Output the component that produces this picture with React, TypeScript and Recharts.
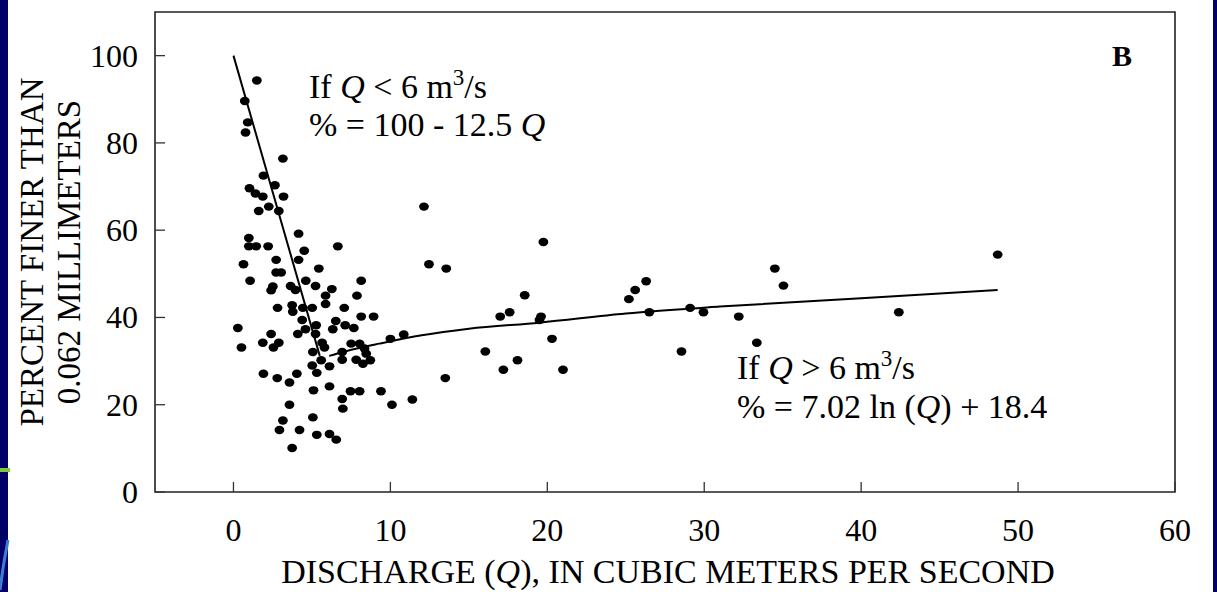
import { ComposedChart, Scatter, Line, XAxis, YAxis, ReferenceArea } from 'recharts'

const W = 1217
const H = 592
const PLOT = { left: 155, right: 1175, top: 12, bottom: 492 }
const SERIF = '"Liberation Serif", "Times New Roman", serif'

const xTicks = [0, 10, 20, 30, 40, 50, 60]
const yTicks = [0, 20, 40, 60, 80, 100]

// samples at low discharge (dense cluster, Q < 10)
const lowQ = [
  1.49, 0.72, 0.91, 0.77, 3.15, 1.91, 2.64, 1.02, 1.4, 1.87, 3.19, 2.25, 1.61, 2.89, 4.15, 0.98, 0.98, 1.45,
  2.21, 6.65, 4.51, 2.72, 4.15, 0.64, 5.44, 2.72, 3.04, 4.61, 1.06, 8.14, 2.51, 3.64, 5.23, 2.4, 3.95, 6.27,
  5.87, 7.87, 5.87, 2.81, 3.74, 4.42, 5.02, 7.06, 3.78, 4.38, 8.14, 8.93, 5.27, 6.52, 7.12, 7.67, 0.28, 2.4,
  1.87, 2.89, 2.55, 0.51, 4.1, 4.59, 5.23, 6.33, 5.65, 5.8, 5.06, 5.59, 5.02, 5.31, 6.12, 6.93, 6.93, 7.5,
  8.04, 8.35, 7.82, 8.25, 8.72, 8.46, 1.91, 2.79, 3.57, 4.04, 5.1, 6.12, 6.93, 6.97, 7.46, 8.04, 3.57, 3.15,
  2.93, 4.21, 5.06, 5.31, 6.12, 6.55, 3.74,
]
const lowPct = [
  94.3, 89.6, 84.7, 82.4, 76.4, 72.5, 70.3, 69.6, 68.4, 67.7, 67.7, 65.4, 64.4, 64.4, 59.2, 58.2, 56.3, 56.3,
  56.3, 56.3, 55.3, 53.2, 53.2, 52.2, 51.2, 50.3, 50.3, 48.4, 48.4, 48.4, 47.1, 47.2, 47.2, 46.2, 46.3, 46.5,
  45.0, 45.0, 43.1, 42.2, 42.8, 42.2, 42.2, 42.2, 41.3, 39.4, 40.2, 40.2, 38.2, 39.2, 38.2, 37.6, 37.6, 36.2,
  34.2, 34.2, 33.1, 33.1, 36.2, 37.3, 36.2, 37.3, 34.2, 33.1, 32.1, 30.2, 29.0, 27.3, 28.8, 32.1, 30.3, 34.0,
  34.0, 32.9, 30.3, 29.4, 30.2, 31.7, 27.1, 26.1, 25.1, 27.1, 23.3, 24.2, 21.3, 19.1, 23.1, 23.1, 20.0, 16.4,
  14.2, 14.2, 17.1, 13.1, 13.3, 12.0, 10.1,
]

// samples at higher discharge
const highQ = [
  12.14, 12.46, 13.56, 19.75, 18.56, 17.0, 17.6, 19.6, 19.5, 20.3, 21.0, 17.2, 18.1, 16.05, 13.5, 11.4, 10.1,
  9.4, 10.0, 10.85, 25.2, 25.6, 26.3, 26.5, 29.1, 29.95, 28.55, 32.2, 33.35, 34.5, 35.05, 42.4, 48.7,
]
const highPct = [
  65.4, 52.2, 51.2, 57.3, 45.1, 40.2, 41.2, 40.2, 39.4, 35.1, 28.0, 28.0, 30.2, 32.2, 26.1, 21.2, 20.0,
  23.1, 35.1, 36.1, 44.2, 46.3, 48.3, 41.2, 42.2, 41.2, 32.2, 40.2, 34.2, 51.2, 47.3, 41.2, 54.4,
]

// fitted relations as traced on the figure
const steepQ = [0, 5.5]
const steepPct = [100, 31.2]
const curveQ = [6.1, 7, 8, 9.3, 12, 15, 19.5, 25, 31, 40, 48.7]
const curvePct = [31.2, 32.1, 33.0, 34.0, 35.9, 37.4, 38.8, 40.9, 42.5, 44.4, 46.3]

const pair = (qs: number[], ps: number[]) => qs.map((q, i) => ({ q, pct: ps[i] }))

const dots = [...pair(lowQ, lowPct), ...pair(highQ, highPct)]
const steepLine = pair(steepQ, steepPct)
const logCurve = pair(curveQ, curvePct)

const Dot = (props: any) => <ellipse cx={props.cx} cy={props.cy} rx={4.9} ry={4.2} fill="#000" />

const BottomTick = ({ x, payload }: any) => (
  <g>
    <line x1={x} x2={x} y1={PLOT.bottom} y2={PLOT.bottom - 10} stroke="#333" strokeWidth={1.3} />
    <text x={x} y={PLOT.bottom + 49} textAnchor="middle" fontSize={32} fontFamily={SERIF} fill="#000">
      {payload.value}
    </text>
  </g>
)

const TopTick = ({ x }: any) => (
  <line x1={x} x2={x} y1={PLOT.top} y2={PLOT.top + 10} stroke="#333" strokeWidth={1.3} />
)

const LeftTick = ({ y, payload }: any) => (
  <g>
    <line x1={PLOT.left} x2={PLOT.left + 10} y1={y} y2={y} stroke="#333" strokeWidth={1.3} />
    <text x={PLOT.left - 17} y={y + 11} textAnchor="end" fontSize={32} fontFamily={SERIF} fill="#000">
      {payload.value}
    </text>
  </g>
)

const RightTick = ({ y }: any) => (
  <line x1={PLOT.right} x2={PLOT.right - 10} y1={y} y2={y} stroke="#333" strokeWidth={1.3} />
)

export default function App() {
  return (
    <div style={{ position: 'relative', width: W, height: H, background: '#fff', overflow: 'hidden' }}>
      <style>{'body{margin:0}'}</style>
      <ComposedChart
        width={W}
        height={H}
        margin={{ top: PLOT.top, right: W - PLOT.right, bottom: 0, left: 0 }}
      >
        <XAxis
          dataKey="q"
          type="number"
          domain={[-5, 60]}
          ticks={xTicks}
          interval={0}
          height={H - PLOT.bottom}
          axisLine={false}
          tickLine={false}
          tick={<BottomTick />}
          allowDataOverflow
        />
        <XAxis
          xAxisId="top"
          orientation="top"
          dataKey="q"
          type="number"
          domain={[-5, 60]}
          ticks={xTicks}
          interval={0}
          height={0}
          axisLine={false}
          tickLine={false}
          tick={<TopTick />}
          allowDataOverflow
        />
        <YAxis
          type="number"
          domain={[0, 110]}
          ticks={yTicks}
          interval={0}
          width={PLOT.left}
          axisLine={false}
          tickLine={false}
          tick={<LeftTick />}
          allowDataOverflow
        />
        <YAxis
          yAxisId="right"
          orientation="right"
          type="number"
          domain={[0, 110]}
          ticks={yTicks}
          interval={0}
          width={0}
          axisLine={false}
          tickLine={false}
          tick={<RightTick />}
          allowDataOverflow
        />
        <ReferenceArea x1={-5} x2={60} y1={0} y2={110} fill="none" stroke="#222" strokeWidth={1.6} />
        <Line data={steepLine} dataKey="pct" type="linear" dot={false} stroke="#000" strokeWidth={2} isAnimationActive={false} />
        <Line data={logCurve} dataKey="pct" type="monotone" dot={false} stroke="#000" strokeWidth={2} isAnimationActive={false} />
        <Scatter data={dots} dataKey="pct" shape={Dot} isAnimationActive={false} />
      </ComposedChart>

      <svg width={W} height={H} style={{ position: 'absolute', left: 0, top: 0, pointerEvents: 'none' }}>
        <g fontFamily={SERIF} fill="#000">
          <text x={309} y={98} fontSize={34}>
            If <tspan fontStyle="italic">Q</tspan> &lt; 6 m<tspan dy={-13} fontSize={23}>3</tspan>
            <tspan dy={13}>/s</tspan>
          </text>
          <text x={309} y={136} fontSize={34}>
            % = 100 - 12.5 <tspan fontStyle="italic">Q</tspan>
          </text>
          <text x={737} y={379} fontSize={34}>
            If <tspan fontStyle="italic">Q</tspan> &gt; 6 m<tspan dy={-13} fontSize={23}>3</tspan>
            <tspan dy={13}>/s</tspan>
          </text>
          <text x={737} y={418} fontSize={34}>
            % = 7.02 ln (<tspan fontStyle="italic">Q</tspan>) + 18.4
          </text>
          <text x={1112} y={66} fontSize={30} fontWeight="bold">B</text>
          <text x={668} y={583} fontSize={34} textAnchor="middle">
            DISCHARGE (<tspan fontStyle="italic">Q</tspan>), IN CUBIC METERS PER SECOND
          </text>
          <text transform="translate(43,252) rotate(-90)" fontSize={33} textAnchor="middle">
            PERCENT FINER THAN
          </text>
          <text transform="translate(80,252) rotate(-90)" fontSize={33} textAnchor="middle">
            0.062 MILLIMETERS
          </text>
        </g>
      </svg>

      {/* slide edges */}
      <div style={{ position: 'absolute', left: 0, top: 0, width: 8, height: H, background: '#000066' }} />
      <div style={{ position: 'absolute', left: 0, top: 468, width: 10, height: 4, background: '#7ecb3a' }} />
      <svg width={10} height={H} style={{ position: 'absolute', left: 0, top: 0, pointerEvents: 'none' }}>
        <path d="M0 590 Q 3 565 8 540" stroke="#3a7fd0" strokeWidth={3} fill="none" />
      </svg>
      <div style={{ position: 'absolute', left: W - 4, top: 0, width: 4, height: H, background: '#000066' }} />
    </div>
  )
}
